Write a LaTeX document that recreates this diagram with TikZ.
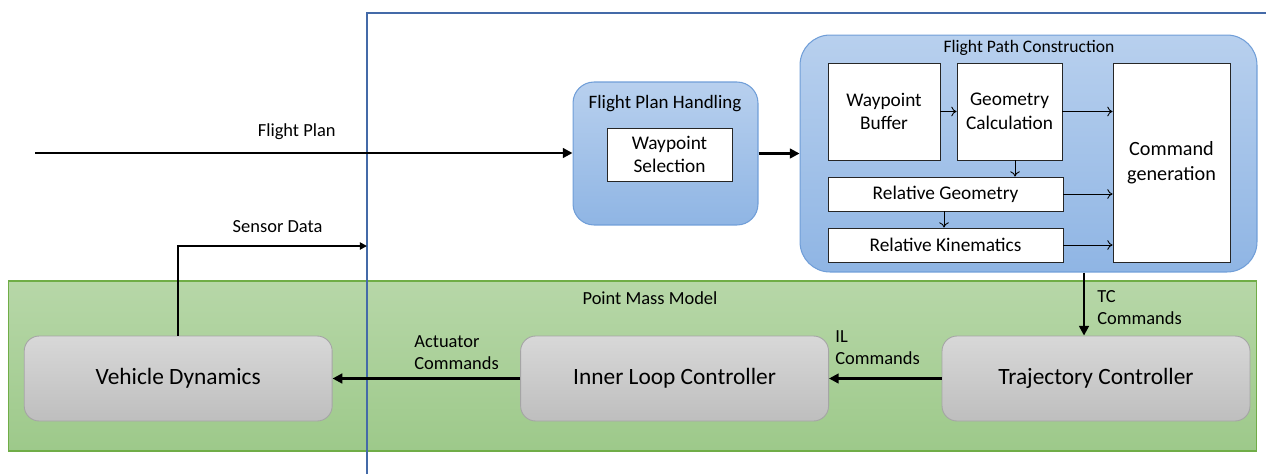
\documentclass[tikz,border=0pt]{standalone}
\usepackage{fontspec}
\setmainfont{Carlito}
\usetikzlibrary{arrows.meta,positioning}

\definecolor{frameblue}{RGB}{68,106,168}
\definecolor{bluetop}{RGB}{184,208,238}
\definecolor{bluebot}{RGB}{143,181,228}
\definecolor{blueline}{RGB}{112,158,216}
\definecolor{greentop}{RGB}{183,215,168}
\definecolor{greenbot}{RGB}{157,201,138}
\definecolor{greenline}{RGB}{112,173,71}
\definecolor{graytop}{RGB}{216,216,216}
\definecolor{graybot}{RGB}{190,190,190}
\definecolor{grayline}{RGB}{165,165,165}

\tikzset{
  group/.style={draw=blueline, line width=0.6pt, top color=bluetop, bottom color=bluebot, inner sep=0pt},
  plant/.style={draw=greenline, line width=0.6pt, top color=greentop, bottom color=greenbot, inner sep=0pt},
  block/.style={draw=black!85, line width=0.5pt, fill=white, align=center, inner sep=1pt,
    font=\fontsize{11}{13.5}\selectfont},
  ctrl/.style={draw=grayline, line width=0.5pt, rounded corners=0.3cm, top color=graytop, bottom color=graybot,
    minimum width=6.16cm, minimum height=1.7cm, font=\fontsize{13.3}{16}\selectfont},
  title/.style={font=\fontsize{10.5}{12.6}\selectfont},
  lbl/.style={font=\fontsize{10.5}{12.6}\selectfont, align=left, inner sep=0pt},
  flow/.style={line width=1.3pt, -{Triangle[length=5.5pt,width=5.5pt]}},
  thin/.style={line width=0.5pt, -{To[length=3pt,width=5.5pt]}}
}

\begin{document}
\begin{tikzpicture}[x=0.02cm, y=-0.02cm]
\useasboundingbox (0,0) rectangle (1266,474);

% plant
\node[plant, minimum width=24.98cm, minimum height=3.4cm] (pmm) at (632.5,366) {};
\node[title] (pmmt) at (650,298) {Point Mass Model};

% vehicle boundary
\draw[frameblue, line width=1.1pt] (367,474) -- (367,13) -- (1266,13);

% flight plan handling
\node[group, rounded corners=0.42cm, minimum width=3.7cm, minimum height=2.86cm] (fph) at (665.5,153.5) {};
\node[title, font=\fontsize{10.8}{13}\selectfont] (fpht) at (665,104) {Flight Plan Handling};
\node[block, minimum width=2.5cm, minimum height=1.06cm] (ws) at (669.5,154.5) {Waypoint\\Selection};

% flight path construction
\node[group, rounded corners=0.6cm, minimum width=9.14cm, minimum height=4.74cm] (fpc) at (1028.5,153.5) {};
\node[title, font=\fontsize{10}{12}\selectfont] (fpct) at (1029,47.5) {Flight Path Construction};
\node[block, minimum width=2.24cm, minimum height=1.94cm] (wb) at (884,111.5) {Waypoint\\Buffer};
\node[block, minimum width=2.1cm, minimum height=1.94cm] (gc) at (1009.5,111.5) {Geometry\\Calculation};
\node[block, minimum width=4.7cm, minimum height=0.68cm] (rg) at (945.5,194) {Relative Geometry};
\node[block, minimum width=4.7cm, minimum height=0.68cm] (rk) at (945.5,245) {Relative Kinematics};
\node[block, minimum width=2.34cm, minimum height=3.98cm, font=\fontsize{11.5}{14}\selectfont] (cg) at (1171.5,162.5) {Command\\generation};

\draw[thin] (wb.east) -- (gc.west);
\draw[thin] (gc.east) -- (gc.east -| cg.west);
\draw[thin] (gc.south -| 1015,0) -- (rg.north -| 1015,0);
\draw[thin] (rg.east) -- (rg.east -| cg.west);
\draw[thin] (rg.south -| 944,0) -- (rk.north -| 944,0);
\draw[thin] (rk.east) -- (rk.east -| cg.west);

% controllers
\begin{scope}[on grid]
\node[ctrl] (tc) at (1096,378.5) {Trajectory Controller};
\node[ctrl] (ilc) [left=8.43cm of tc] {Inner Loop Controller};
\node[ctrl] (vd) [left=9.93cm of ilc] {Vehicle Dynamics};
\end{scope}

% signals
\coordinate (fpin) at (35,153);
\coordinate (sens) at (367,246);
\draw[flow] (fpin) -- node[lbl, above=7pt, xshift=-0.14cm] {Flight Plan} (fph.west |- fpin);
\draw[flow] (fph.east) -- (fpc.west);
\draw[line width=1.1pt, -{Triangle[length=4pt,width=4pt]}] (vd.north) |- node[lbl, pos=0.75, above=7pt, xshift=0.1cm] {Sensor Data} (sens);
\draw[flow] (fpc.south -| 1084,0) -- (tc.north -| 1084,0);
\node[lbl, anchor=west] (tcl) at (1097,308) {TC\\Commands};
\draw[flow] (tc.west) -- (ilc.east);
\node[lbl, anchor=west] (ill) at (835,348) {IL\\Commands};
\draw[flow] (ilc.west) -- (vd.east);
\node[lbl, anchor=west] (acl) at (414,353) {Actuator\\Commands};
\end{tikzpicture}
\end{document}
